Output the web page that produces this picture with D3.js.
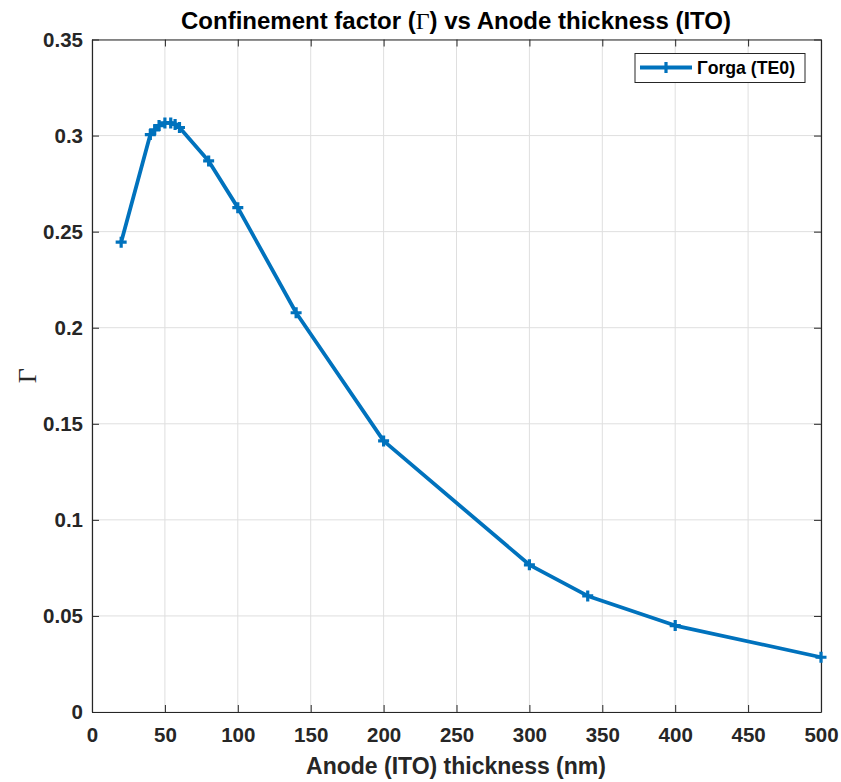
<!DOCTYPE html>
<html><head><meta charset="utf-8">
<script src="https://cdn.jsdelivr.net/npm/d3@7/dist/d3.min.js"></script>
<style>body{margin:0;background:#fff}</style>
</head><body>
<svg id="c" width="841" height="782"></svg>
<script>
const thickness = [20, 40, 43, 46, 50, 54, 57, 60, 80, 100, 140, 200, 300, 340, 400, 500];
const gammaOrga = [0.2445, 0.3005, 0.3030, 0.3052, 0.3066, 0.3066, 0.3058, 0.3042, 0.2868, 0.2625, 0.2078, 0.1411, 0.0766, 0.0604, 0.0450, 0.0285];
const xTicks = [0, 50, 100, 150, 200, 250, 300, 350, 400, 450, 500];
const yTicks = [0, 0.05, 0.1, 0.15, 0.2, 0.25, 0.3, 0.35];
const yTickLabels = ["0", "0.05", "0.1", "0.15", "0.2", "0.25", "0.3", "0.35"];
const seriesName = "Γorga (TE0)";

const svg = d3.select("#c");
const L = 92, R = 821, T = 39.5, B = 712;
const x = d3.scaleLinear().domain([0, 500]).range([L, R]);
const y = d3.scaleLinear().domain([0, 0.35]).range([B, T]);
const font = "'Liberation Sans', Arial, sans-serif";
const axisCol = "#262626";
const blue = "#0072BD";

// grid
const g = svg.append("g");
g.selectAll(".gx").data(xTicks).enter().append("line")
  .attr("x1", d => x(d)).attr("x2", d => x(d)).attr("y1", T).attr("y2", B)
  .attr("stroke", "#dfdfdf").attr("stroke-width", 1);
g.selectAll(".gy").data(yTicks).enter().append("line")
  .attr("y1", d => y(d)).attr("y2", d => y(d)).attr("x1", L).attr("x2", R)
  .attr("stroke", "#dfdfdf").attr("stroke-width", 1);

// axes
const xa = svg.append("g").attr("transform", `translate(0,${B})`)
  .call(d3.axisBottom(x).tickValues(xTicks).tickSizeInner(-7).tickSizeOuter(0).tickPadding(15).tickFormat(d3.format("d")));
const xt = svg.append("g").attr("transform", `translate(0,${T})`)
  .call(d3.axisTop(x).tickValues(xTicks).tickSizeInner(-7).tickSizeOuter(0).tickFormat(""));
const ya = svg.append("g").attr("transform", `translate(${L},0)`)
  .call(d3.axisLeft(y).tickValues(yTicks).tickSizeInner(-7).tickSizeOuter(0).tickPadding(9).tickFormat((d, i) => yTickLabels[i]));
const yr = svg.append("g").attr("transform", `translate(${R},0)`)
  .call(d3.axisRight(y).tickValues(yTicks).tickSizeInner(-7).tickSizeOuter(0).tickFormat(""));
[xa, xt, ya, yr].forEach(a => {
  a.select(".domain").attr("stroke", axisCol).attr("stroke-width", 1.2);
  a.selectAll(".tick line").attr("stroke", axisCol).attr("stroke-width", 1);
  a.selectAll("text").attr("fill", "#262626").style("font-family", font)
    .style("font-weight", "bold").style("font-size", "20.5px");
});
xa.selectAll("text").attr("dy", "0.71em");

// line
const line = d3.line().x((d, i) => x(thickness[i])).y(d => y(d));
svg.append("path").datum(gammaOrga).attr("d", line)
  .attr("fill", "none").attr("stroke", blue).attr("stroke-width", 3.8)
  .attr("stroke-linejoin", "round");
const m = svg.append("g");
gammaOrga.forEach((v, i) => {
  const cx = x(thickness[i]), cy = y(v);
  m.append("path").attr("d", `M${cx - 5.5},${cy}H${cx + 5.5}M${cx},${cy - 5.5}V${cy + 5.5}`)
    .attr("stroke", blue).attr("stroke-width", 3.2).attr("fill", "none");
});

// title
svg.append("text").attr("x", 456).attr("y", 29).attr("text-anchor", "middle")
  .style("font-family", font).style("font-weight", "bold").style("font-size", "24px").attr("fill", "#000")
  .html("Confinement factor (<tspan style=\"font-family:'Liberation Serif',serif;font-weight:normal\">Γ</tspan>) vs Anode thickness (ITO)");

// x label
svg.append("text").attr("x", 456).attr("y", 774).attr("text-anchor", "middle")
  .style("font-family", font).style("font-weight", "bold").style("font-size", "23px").attr("fill", "#262626")
  .text("Anode (ITO) thickness (nm)");

// y label
svg.append("text").attr("transform", `translate(36,${(T + B) / 2}) rotate(-90)`).attr("text-anchor", "middle")
  .style("font-family", "'Liberation Serif', serif").style("font-size", "26px").attr("fill", "#262626")
  .text("Γ");

// legend
const lg = svg.append("g");
lg.append("rect").attr("x", 635).attr("y", 53.5).attr("width", 170).attr("height", 29)
  .attr("fill", "#fff").attr("stroke", axisCol).attr("stroke-width", 1);
lg.append("line").attr("x1", 640).attr("x2", 692).attr("y1", 67.5).attr("y2", 67.5)
  .attr("stroke", blue).attr("stroke-width", 3.8);
lg.append("path").attr("d", "M660.5,67.5H671.5M666,62V73").attr("stroke", blue).attr("stroke-width", 3.2);
lg.append("text").attr("x", 697).attr("y", 74).style("font-family", font).style("font-weight", "bold")
  .style("font-size", "17.7px").attr("fill", "#000").text(seriesName);
</script>
</body></html>
